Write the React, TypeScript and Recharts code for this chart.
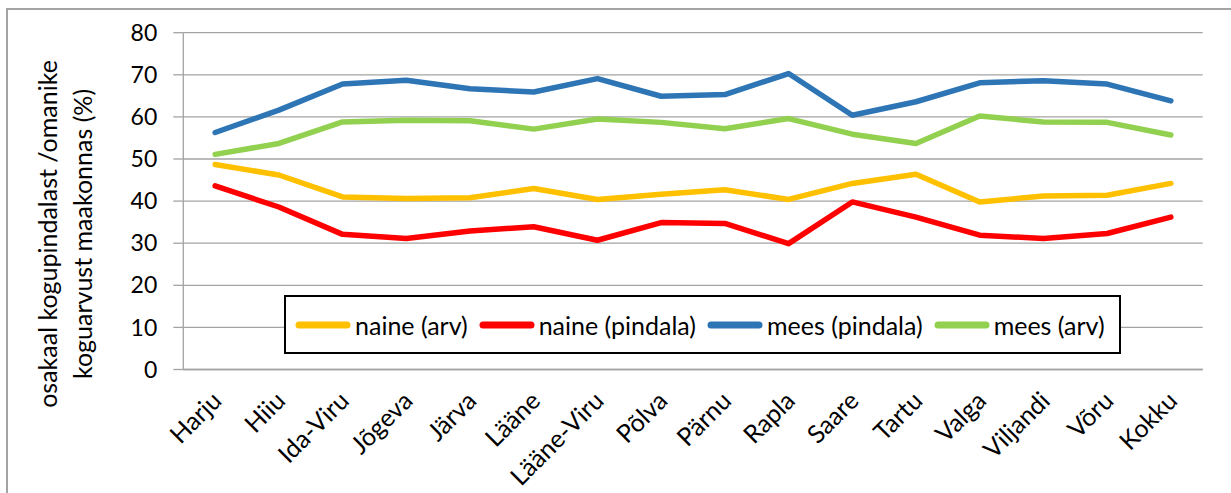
import React from 'react'
import { LineChart, Line, XAxis, YAxis, CartesianGrid, Legend, Label } from 'recharts'

// maakonnad + kokku
const counties = ['Harju', 'Hiiu', 'Ida-Viru', 'Jõgeva', 'Järva', 'Lääne', 'Lääne-Viru', 'Põlva', 'Pärnu', 'Rapla', 'Saare', 'Tartu', 'Valga', 'Viljandi', 'Võru', 'Kokku']

const naineArv = [48.7, 46.2, 41.0, 40.6, 40.8, 43.0, 40.4, 41.6, 42.7, 40.4, 44.2, 46.4, 39.8, 41.2, 41.4, 44.2]
const nainePindala = [43.6, 38.6, 32.1, 31.1, 32.9, 33.9, 30.7, 34.9, 34.7, 29.9, 39.8, 36.2, 31.9, 31.1, 32.3, 36.2]
const meesPindala = [56.3, 61.6, 67.8, 68.7, 66.7, 65.9, 69.1, 64.9, 65.3, 70.3, 60.4, 63.6, 68.1, 68.6, 67.8, 63.8]
const meesArv = [51.1, 53.7, 58.8, 59.2, 59.1, 57.1, 59.5, 58.7, 57.2, 59.6, 55.9, 53.7, 60.2, 58.8, 58.7, 55.7]

const yTicks = [0, 10, 20, 30, 40, 50, 60, 70, 80]
const edgeTicks = [0, 1, 2, 3, 4, 5, 6, 7, 8, 9, 10, 11, 12, 13, 14, 15, 16]

const SERIES = [
  { key: 'naineArv', name: 'naine (arv)', color: '#FFC000' },
  { key: 'nainePindala', name: 'naine (pindala)', color: '#FF0000' },
  { key: 'meesPindala', name: 'mees (pindala)', color: '#2E75B6' },
  { key: 'meesArv', name: 'mees (arv)', color: '#92D050' },
]

const data = counties.map((county, i) => ({
  county,
  naineArv: naineArv[i],
  nainePindala: nainePindala[i],
  meesPindala: meesPindala[i],
  meesArv: meesArv[i],
}))

const FONT = 'Lato, sans-serif'
const GRID = '#a3a3a3'

const CountyTick = ({ x, y, payload }: any) => {
  const tx = x + 8
  const ty = y + 32
  return (
    <text x={tx} y={ty} transform={`rotate(-45, ${tx}, ${ty})`} textAnchor="end"
      fontSize={25} fontFamily={FONT} fill="#000">
      {payload.value}
    </text>
  )
}

const YTitle = () => (
  <g fontSize={25} fontFamily={FONT} fill="#000">
    <text transform="translate(47, 234) rotate(-90)" textAnchor="middle" dominantBaseline="central">
      osakaal kogupindalast /omanike
    </text>
    <text transform="translate(82, 234) rotate(-90)" textAnchor="middle" dominantBaseline="central">
      koguarvust maakonnas (%)
    </text>
  </g>
)

const renderLegend = () => (
  <div style={{
    boxSizing: 'border-box', width: 837, height: 59, border: '2px solid #000',
    background: '#fff', display: 'flex', alignItems: 'center', paddingLeft: 9,
    fontFamily: FONT, fontSize: 25, color: '#000', whiteSpace: 'nowrap',
  }}>
    {SERIES.map((s) => (
      <div key={s.key} style={{ display: 'flex', alignItems: 'center', marginRight: 11 }}>
        <svg width={56} height={10}>
          <line x1={4} y1={5} x2={52} y2={5} stroke={s.color} strokeWidth={7} strokeLinecap="round" />
        </svg>
        <span style={{ marginLeft: 4 }}>{s.name}</span>
      </div>
    ))}
  </div>
)

export default function App() {
  return (
    <div style={{ position: 'absolute', left: 0, top: 0, width: 1231, height: 493, background: '#fff', overflow: 'hidden' }}>
      <div style={{ position: 'absolute', left: 6, top: 8, right: 0, bottom: 0, borderLeft: `2px solid ${GRID}`, borderTop: `2px solid ${GRID}` }} />
      <div style={{ position: 'absolute', left: 0, top: 0 }}>
        <LineChart width={1231} height={493} data={data}
          margin={{ top: 32.7, right: 28.3, bottom: 12.5, left: 63.3 }}>
          <CartesianGrid xAxisId="labels" vertical={false} stroke={GRID} strokeWidth={1.3} />
          <XAxis xAxisId="edges" type="number" domain={[0, counties.length]} ticks={edgeTicks}
            allowDataOverflow tick={false} tickSize={8} height={1}
            axisLine={{ stroke: GRID, strokeWidth: 1.3 }} tickLine={{ stroke: GRID, strokeWidth: 1.3 }} />
          <XAxis xAxisId="labels" dataKey="county" type="category" scale="band" interval={0}
            tick={<CountyTick />} tickLine={false} axisLine={false} tickSize={0} tickMargin={0} height={110} />
          <YAxis domain={[0, 80]} ticks={yTicks} width={120} tickSize={10} tickMargin={16}
            axisLine={{ stroke: GRID, strokeWidth: 1.3 }} tickLine={{ stroke: GRID, strokeWidth: 1.3 }}
            tick={{ fill: '#000', fontSize: 23, fontFamily: FONT }}>
            <Label content={<YTitle />} />
          </YAxis>
          <Legend layout="vertical" align="center" verticalAlign="middle" content={renderLegend}
            wrapperStyle={{ left: 284, top: 295, width: 'auto', height: 'auto' }} />
          {SERIES.map((s) => (
            <Line key={s.key} xAxisId="labels" type="linear" dataKey={s.key} name={s.name}
              stroke={s.color} strokeWidth={5.5} strokeLinecap="round" strokeLinejoin="round"
              dot={false} activeDot={false} isAnimationActive={false} />
          ))}
        </LineChart>
      </div>
    </div>
  )
}
